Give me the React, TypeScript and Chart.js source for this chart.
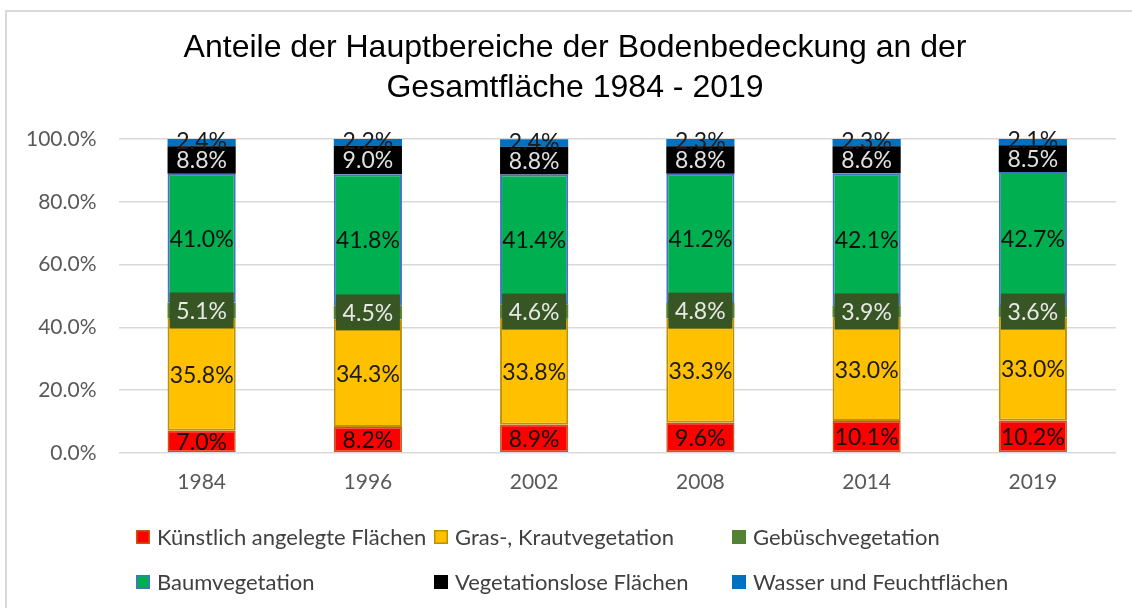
import React, { useEffect, useRef } from "react";
import { Chart, registerables } from "chart.js";

Chart.register(...registerables);

const years = ["1984", "1996", "2002", "2008", "2014", "2019"];
const seriesNames = [
  "Künstlich angelegte Flächen",
  "Gras-, Krautvegetation",
  "Gebüschvegetation",
  "Baumvegetation",
  "Vegetationslose Flächen",
  "Wasser und Feuchtflächen",
];
const kuenstlich = [7.0, 8.2, 8.9, 9.6, 10.1, 10.2];
const gras = [35.8, 34.3, 33.8, 33.3, 33.0, 33.0];
const gebuesch = [5.1, 4.5, 4.6, 4.8, 3.9, 3.6];
const baum = [41.0, 41.8, 41.4, 41.2, 42.1, 42.7];
const vegetationslos = [8.8, 9.0, 8.8, 8.8, 8.6, 8.5];
const wasser = [2.4, 2.2, 2.4, 2.3, 2.3, 2.1];
const yTicks = [0, 20, 40, 60, 80, 100];
const titleLines = [
  "Anteile der Hauptbereiche der Bodenbedeckung an der",
  "Gesamtfläche 1984 - 2019",
];

const fills = ["#FF0000", "#FFC000", "#548235", "#00B050", "#000000", "#0070C0"];
const borders = ["#C55A11", "#BF9000", "#548235", "#4472C4", "#000000", "#0070C0"];
const borderWidths = [1.5, 2, 0, 2, 0, 0];
const labelColors = ["#111111", "#1a1a1a", "#e8e8e8", "#111111", "#e0e0e0", "#1a1a1a"];

const FONT = "Lato, 'Open Sans', sans-serif";

const titlePlugin = {
  id: "titleText",
  afterDraw(chart: any) {
    const ctx = chart.ctx;
    ctx.save();
    ctx.font = "32px 'Liberation Sans', Arial, sans-serif";
    ctx.fillStyle = "#000000";
    ctx.textAlign = "center";
    ctx.textBaseline = "middle";
    titleLines.forEach((t, i) => ctx.fillText(t, 575, 48 + i * 40));
    ctx.restore();
  },
};

const dataLabelPlugin = {
  id: "dataLabels",
  afterDatasetsDraw(chart: any) {
    const ctx = chart.ctx;
    ctx.save();
    ctx.font = `23px ${FONT}`;
    ctx.textAlign = "center";
    ctx.textBaseline = "middle";
    chart.data.datasets.forEach((ds: any, di: number) => {
      const meta = chart.getDatasetMeta(di);
      meta.data.forEach((el: any, i: number) => {
        const v = ds.data[i];
        const x = el.x;
        let y = (el.y + el.base) / 2;
        if (di === 5) y -= 2;
        const txt = v.toFixed(1) + "%";
        if (di === 2) {
          ctx.fillStyle = "#375623";
          ctx.fillRect(x - 32, y - 18, 64, 36);
        }
        ctx.fillStyle = labelColors[di];
        ctx.fillText(txt, x, y + 1);
      });
    });
    ctx.restore();
  },
};

const legendPlugin = {
  id: "gridLegend",
  afterDraw(chart: any) {
    const ctx = chart.ctx;
    const cols = [136, 434, 732];
    const rows = [537, 582];
    ctx.save();
    ctx.font = `22px ${FONT}`;
    ctx.textBaseline = "middle";
    ctx.textAlign = "left";
    chart.data.datasets.forEach((ds: any, i: number) => {
      const bx = cols[i % 3];
      const by = rows[Math.floor(i / 3)];
      ctx.fillStyle = ds.backgroundColor;
      ctx.fillRect(bx, by - 7, 14, 14);
      if (ds.borderWidth > 0) {
        ctx.strokeStyle = ds.borderColor;
        ctx.lineWidth = 1.5;
        ctx.strokeRect(bx + 0.75, by - 6.25, 12.5, 12.5);
      }
      ctx.fillStyle = "#404040";
      ctx.fillText(ds.label, bx + 21, by + 1);
    });
    ctx.restore();
  },
};

export default function App() {
  const ref = useRef<HTMLCanvasElement | null>(null);
  useEffect(() => {
    if (!ref.current) return;
    const values = [kuenstlich, gras, gebuesch, baum, vegetationslos, wasser];
    const chart = new Chart(ref.current, {
      type: "bar",
      data: {
        labels: years,
        datasets: values.map((d, i) => ({
          label: seriesNames[i],
          data: d,
          backgroundColor: fills[i],
          borderColor: borders[i],
          borderWidth: borderWidths[i],
          borderSkipped: false,
          barPercentage: 0.41,
          categoryPercentage: 1,
        })),
      },
      options: {
        animation: false,
        responsive: false,
        maintainAspectRatio: false,
        layout: { padding: { left: 4, right: 16, top: 139, bottom: 104 } },
        plugins: {
          legend: { display: false },
          tooltip: { enabled: false },
          title: { display: false },
        },
        scales: {
          x: {
            stacked: true,
            grid: { display: false },
            border: { display: false },
            ticks: { color: "#595959", font: { family: FONT, size: 21 }, padding: 9 },
          },
          y: {
            stacked: true,
            min: 0,
            max: 100,
            afterBuildTicks: (axis: any) => {
              axis.ticks = yTicks.map((v) => ({ value: v }));
            },
            grid: { color: "#d9d9d9", lineWidth: 1.5, drawTicks: false },
            border: { display: false },
            ticks: {
              color: "#595959",
              font: { family: FONT, size: 21 },
              padding: 22,
              callback: (v: any) => Number(v).toFixed(1) + "%",
            },
          },
        },
      },
      plugins: [dataLabelPlugin, legendPlugin, titlePlugin],
    });
    return () => chart.destroy();
  }, []);

  return (
    <div style={{ position: "fixed", left: 0, top: 0, width: 1132, height: 608, background: "#fff", overflow: "hidden" }}>
      <div
        style={{
          position: "absolute",
          left: 5,
          top: 10,
          width: 1200,
          height: 700,
          borderLeft: "2px solid #d9d9d9",
          borderTop: "2px solid #d9d9d9",
          boxSizing: "border-box",
        }}
      />
      <canvas ref={ref} width={1132} height={608} style={{ position: "absolute", left: 0, top: 0 }} />
    </div>
  );
}
